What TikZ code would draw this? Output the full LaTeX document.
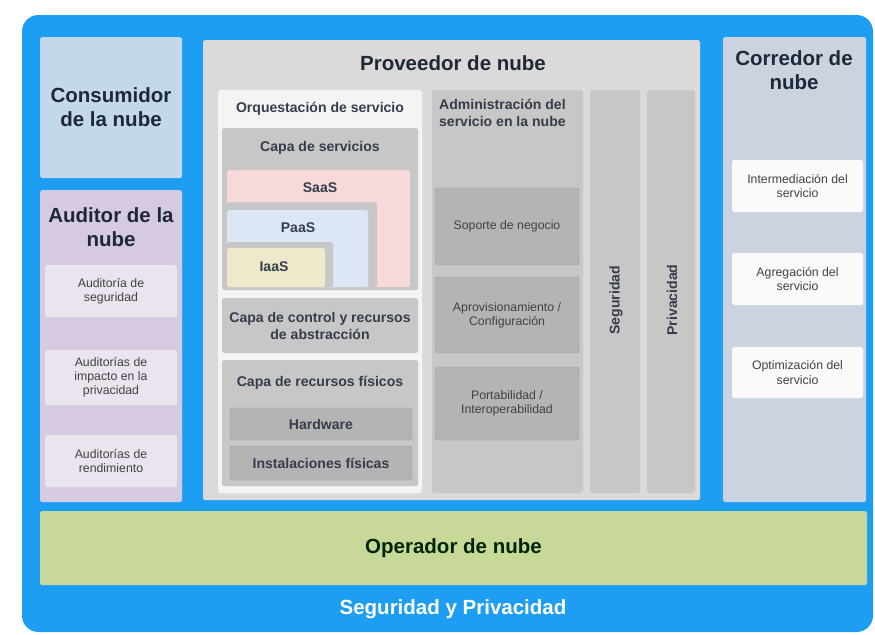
\documentclass[tikz,border=0pt]{standalone}
\usepackage{fontspec}
\setmainfont{Liberation Sans}
\usepackage{xcolor}
\usetikzlibrary{positioning, fit}

\definecolor{frameblue}{RGB}{30,158,242}
\definecolor{consblue}{RGB}{196,216,235}
\definecolor{audpurple}{RGB}{214,202,225}
\definecolor{audcell}{RGB}{234,228,239}
\definecolor{provgray}{RGB}{220,217,217}
\definecolor{orqwhite}{RGB}{244,244,244}
\definecolor{laygray}{RGB}{199,199,199}
\definecolor{cellgray}{RGB}{180,180,180}
\definecolor{edgegray}{RGB}{150,150,150}
\definecolor{saaspink}{RGB}{247,217,218}
\definecolor{paasblue}{RGB}{221,230,245}
\definecolor{iaasyel}{RGB}{237,233,202}
\definecolor{brokgray}{RGB}{204,211,224}
\definecolor{opgreen}{RGB}{200,216,153}
\definecolor{inkdark}{RGB}{30,40,55}
\definecolor{inkgray}{RGB}{65,65,65}

\begin{document}
\begin{tikzpicture}[
		x=0.03cm, y=-0.03cm,
		pan/.style={inner sep=0pt, outer sep=0pt, rounded corners=1.5pt},
		ttl/.style={font=\bfseries\fontsize{17.5}{20}\selectfont, text=inkdark, align=center},
		sub/.style={font=\bfseries\fontsize{12}{14.5}\selectfont, text=inkdark!90, align=center},
		sml/.style={font=\fontsize{10.5}{12}\selectfont, text=inkgray, align=center}
	]
	\useasboundingbox (0,0) rectangle (875,634);

	% blue frame = security and privacy, wraps everything
	\node[pan, fill=frameblue, rounded corners=14pt, fit={(22,15)(873,632)}] (frame) {};
	\node[ttl, text=white] (framelab) at (453,609) {Seguridad y Privacidad};

	% left column: consumer and auditor
	\node[pan, fill=consblue, fit={(40,37)(182,178)}] (cons) {};
	\node[ttl] (conslab) at (111,107) {Consumidor\\de la nube};

	\node[pan, fill=audpurple, fit={(40,190)(182,502)}] (aud) {};
	\node[ttl] (audlab) at (111,227) {Auditor de la\\nube};
	\node[pan, fill=audcell, fit={(45,265)(177,317)}] (audsec) {};
	\node[sml] at (audsec) {Auditoría de\\seguridad};
	\node[pan, fill=audcell, fit={(45,350)(177,405)}] (audpriv) {};
	\node[sml] at (audpriv) {Auditorías de\\impacto en la\\privacidad};
	\node[pan, fill=audcell, fit={(45,435)(177,487)}] (audperf) {};
	\node[sml] at (audperf) {Auditorías de\\rendimiento};

	% provider
	\node[pan, fill=provgray, fit={(203,40)(700,500)}] (prov) {};
	\node[ttl] (provlab) at (453,63) {Proveedor de nube};

	% service orchestration with its three layers
	\node[pan, fill=orqwhite, fit={(218,90)(422,493)}] (orq) {};
	\node[sub] (orqlab) at (320,109) {Orquestación de servicio};

	\node[pan, fill=laygray, fit={(222,128)(418,290)}] (svc) {};
	\node[sub] (svclab) at (320,148) {Capa de servicios};
	\node[pan, fill=saaspink, fit={(227,170)(410,287)}] (saas) {};
	\node[sub] at (320,188) {SaaS};
	% PaaS and IaaS sit in grey frames, flush left and bottom
	\node[pan, fill=laygray, fit={(227,202)(377,287)}] (paasfr) {};
	\node[pan, fill=paasblue, fit={(227,210)(368,287)}] (paas) {};
	\node[sub] at (298,228) {PaaS};
	\node[pan, fill=laygray, fit={(227,242)(333,287)}] (iaasfr) {};
	\node[pan, fill=iaasyel, fit={(227,248)(325,287)}] (iaas) {};
	\node[sub] at (274,267) {IaaS};

	\node[pan, fill=laygray, fit={(222,298)(418,353)}] (ctl) {};
	\node[sub] at (ctl) {Capa de control y recursos\\de abstracción};

	\node[pan, fill=laygray, fit={(222,360)(418,486)}] (phy) {};
	\node[sub] (phylab) at (320,383) {Capa de recursos físicos};
	\node[pan, fill=cellgray, draw=edgegray, fit={(230,408)(412,440)}] (hw) {};
	\node[sub] at (hw) {Hardware};
	\node[pan, fill=cellgray, draw=edgegray, fit={(230,446)(412,480)}] (fac) {};
	\node[sub] at (fac) {Instalaciones físicas};

	% cloud service management
	\node[pan, fill=laygray, fit={(432,90)(583,493)}] (mgmt) {};
	\node[sub, align=left, anchor=north west] (mgmtlab) at (435,95)
		{Administración del\\servicio en la nube};
	\node[pan, fill=cellgray, draw=edgegray, fit={(435,188)(579,265)}] (bus) {};
	\node[sml] at (bus) {Soporte de negocio};
	\node[pan, fill=cellgray, draw=edgegray, fit={(435,277)(579,353)}] (prv) {};
	\node[sml] at (prv) {Aprovisionamiento /\\Configuración};
	\node[pan, fill=cellgray, draw=edgegray, fit={(435,367)(579,440)}] (port) {};
	\node[sml] at (port) {Portabilidad /\\Interoperabilidad};

	% vertical strips
	\node[pan, fill=laygray, fit={(590,90)(640,493)}] (sec) {};
	\node[sub, rotate=90] at (616,300) {Seguridad};
	\node[pan, fill=laygray, fit={(647,90)(695,493)}] (priv) {};
	\node[sub, rotate=90] at (672,300) {Privacidad};

	% broker
	\node[pan, fill=brokgray, fit={(723,37)(866,502)}] (brok) {};
	\node[ttl] (broklab) at (794,70) {Corredor de\\nube};
	\node[pan, fill=white!96!gray, fit={(732,160)(863,212)}] (inter) {};
	\node[sml] at (inter) {Intermediación del\\servicio};
	\node[pan, fill=white!96!gray, fit={(732,253)(863,305)}] (aggr) {};
	\node[sml] at (aggr) {Agregación del\\servicio};
	\node[pan, fill=white!96!gray, fit={(732,347)(863,398)}] (arb) {};
	\node[sml] at (arb) {Optimización del\\servicio};

	% carrier along the bottom
	\node[pan, fill=opgreen, fit={(40,511)(867,585)}] (carr) {};
	\node[ttl, text=black!85!green] at (carr) {Operador de nube};
\end{tikzpicture}
\end{document}
